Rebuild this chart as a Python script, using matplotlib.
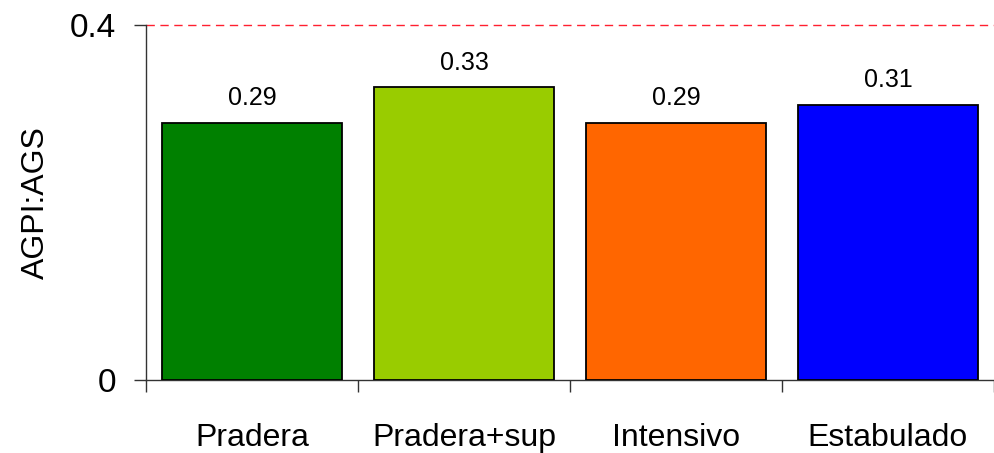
import matplotlib.pyplot as plt
import numpy as np

# datos
categorias = ["Pradera", "Pradera+sup", "Intensivo", "Estabulado"]
valores = [0.29, 0.33, 0.29, 0.31]
colores = ["#008000", "#99CC00", "#FF6600", "#0000FF"]

plt.rcParams['font.family'] = ['Liberation Sans', 'DejaVu Sans']

fig = plt.figure(figsize=(9.94, 4.53), dpi=100)
ax = fig.add_axes([146/994, 1-380/453, 1-146/994, 355/453])

x = np.arange(len(categorias))
ax.bar(x, valores, width=0.845, color=colores, edgecolor="black", linewidth=1.3, zorder=3)

for xi, v in zip(x, valores):
    ax.annotate(f"{v:.2f}", (xi, v), xytext=(0, 9), textcoords="offset points",
                ha="center", va="bottom", fontsize=18)

# linea discontinua en el maximo del eje
ax.axhline(0.4, color="#FF2030", lw=1.0, linestyle=(0, (6, 4)), zorder=1, clip_on=False)

ax.set_xlim(-0.5, len(categorias) - 0.5)
ax.set_ylim(0, 0.4)
ax.set_yticks([0, 0.4])
ax.set_yticklabels(["0", "0.4"])
ax.set_xticks(x)
ax.set_xticklabels(categorias)
ax.set_xticks(np.arange(-0.5, len(categorias)), minor=True)
ax.tick_params(axis="x", which="major", length=0, pad=31, labelsize=23)
ax.tick_params(axis="x", which="minor", length=8.5, width=1, color="#333333")
ax.tick_params(axis="y", length=8.5, width=1, pad=13, labelsize=24, color="#333333")
ax.set_ylabel("AGPI:AGS", fontsize=23, labelpad=14)

for s in ["top", "right"]:
    ax.spines[s].set_visible(False)
for s in ["left", "bottom"]:
    ax.spines[s].set_color("#333333")
    ax.spines[s].set_linewidth(1)

plt.savefig("out.png", dpi=100)
